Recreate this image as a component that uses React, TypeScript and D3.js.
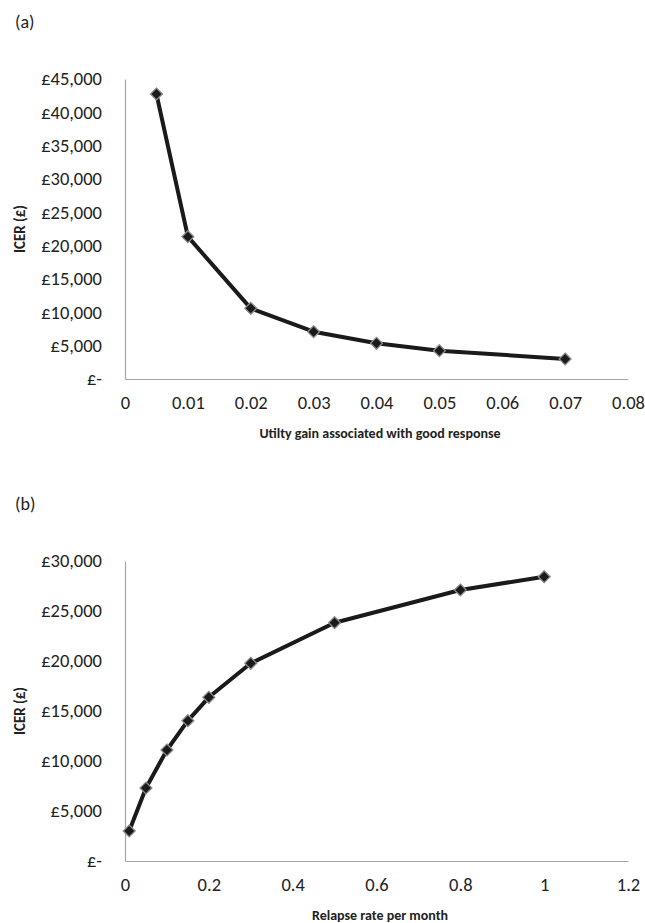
import React, { useEffect, useRef } from 'react';
import * as d3 from 'd3';

// (a) utility gain sensitivity
const utilityGain = [0.005, 0.01, 0.02, 0.03, 0.04, 0.05, 0.07];
const icerA = [42750, 21350, 10600, 7100, 5350, 4250, 3000];
const xTicksA = [0, 0.01, 0.02, 0.03, 0.04, 0.05, 0.06, 0.07, 0.08];
const yTicksA = [0, 5000, 10000, 15000, 20000, 25000, 30000, 35000, 40000, 45000];

// (b) relapse rate sensitivity
const relapseRate = [0.01, 0.05, 0.1, 0.15, 0.2, 0.3, 0.5, 0.8, 1.0];
const icerB = [3000, 7300, 11100, 14030, 16370, 19770, 23830, 27100, 28430];
const xTicksB = [0, 0.2, 0.4, 0.6, 0.8, 1, 1.2];
const yTicksB = [0, 5000, 10000, 15000, 20000, 25000, 30000];

const FONT = 'Carlito, Lato, "Open Sans", sans-serif';

const poundFmt = (v: number) => (v === 0 ? '£-' : '£' + d3.format(',')(v));
const numFmt = (v: number) => String(+v.toFixed(3));

type PanelProps = {
  top: number;
  tag: string;
  xs: number[];
  ys: number[];
  xTicks: number[];
  yTicks: number[];
  xTitle: string;
};

const Panel = ({ top, tag, xs, ys, xTicks, yTicks, xTitle }: PanelProps) => {
  const gRef = useRef<SVGGElement>(null);

  useEffect(() => {
    const g = d3.select(gRef.current);
    g.selectAll('*').remove();

    const left = 125, right = 628;
    const plotTop = top + 58, plotBottom = top + 358;

    const x = d3.scaleLinear()
      .domain([xTicks[0], xTicks[xTicks.length - 1]])
      .range([left, right]);
    const y = d3.scaleLinear()
      .domain([yTicks[0], yTicks[yTicks.length - 1]])
      .range([plotBottom, plotTop]);

    // panel tag
    g.append('text')
      .attr('x', 15).attr('y', top + 7)
      .style('font-family', FONT).style('font-size', '18px').style('fill', '#222')
      .text(tag);

    const yAxis = g.append('g')
      .attr('transform', `translate(${left},0)`)
      .call(d3.axisLeft(y).tickValues(yTicks).tickSize(0).tickPadding(23).tickFormat((d: any) => poundFmt(+d)));

    const xAxis = g.append('g')
      .attr('transform', `translate(0,${plotBottom})`)
      .call(d3.axisBottom(x).tickValues(xTicks).tickSize(0).tickPadding(17).tickFormat((d: any) => numFmt(+d)));

    [yAxis, xAxis].forEach(a => {
      a.select('.domain').attr('stroke', '#a6a6a6').attr('stroke-width', 1.2);
      a.selectAll('text')
        .style('font-family', FONT).style('font-size', '18.5px').style('fill', '#222');
    });

    // axis titles
    g.append('text')
      .attr('transform', `translate(25,${(plotTop + plotBottom) / 2}) rotate(-90)`)
      .attr('text-anchor', 'middle')
      .style('font-family', FONT).style('font-size', '15px').style('font-weight', 'bold').style('fill', '#222')
      .text('ICER (£)');

    g.append('text')
      .attr('x', 380).attr('y', plotBottom + 59)
      .attr('text-anchor', 'middle')
      .style('font-family', FONT).style('font-size', '14px').style('font-weight', 'bold').style('fill', '#222')
      .text(xTitle);

    const pts = xs.map((v, i) => [x(v), y(ys[i])] as [number, number]);

    g.append('path')
      .attr('d', d3.line()(pts))
      .attr('fill', 'none')
      .attr('stroke', '#1a1a1a')
      .attr('stroke-width', 4)
      .attr('stroke-linejoin', 'round');

    const diamond = d3.symbol().type(d3.symbolDiamond2).size(90);
    g.selectAll('path.pt')
      .data(pts)
      .join('path')
      .attr('class', 'pt')
      .attr('d', diamond())
      .attr('transform', d => `translate(${d[0]},${d[1]})`)
      .attr('fill', '#1a1a1a')
      .attr('stroke', '#8c8c8c')
      .attr('stroke-width', 1.3);
  }, [top, tag, xs, ys, xTicks, yTicks, xTitle]);

  return <g ref={gRef} />;
};

export default function App() {
  return (
    <svg width={645} height={923} style={{ position: 'absolute', left: 0, top: 0, background: '#fff' }}>
      <Panel top={21} tag="(a)" xs={utilityGain} ys={icerA} xTicks={xTicksA} yTicks={yTicksA}
        xTitle="Utilty gain associated with good response" />
      <Panel top={503} tag="(b)" xs={relapseRate} ys={icerB} xTicks={xTicksB} yTicks={yTicksB}
        xTitle="Relapse rate per month" />
    </svg>
  );
}
